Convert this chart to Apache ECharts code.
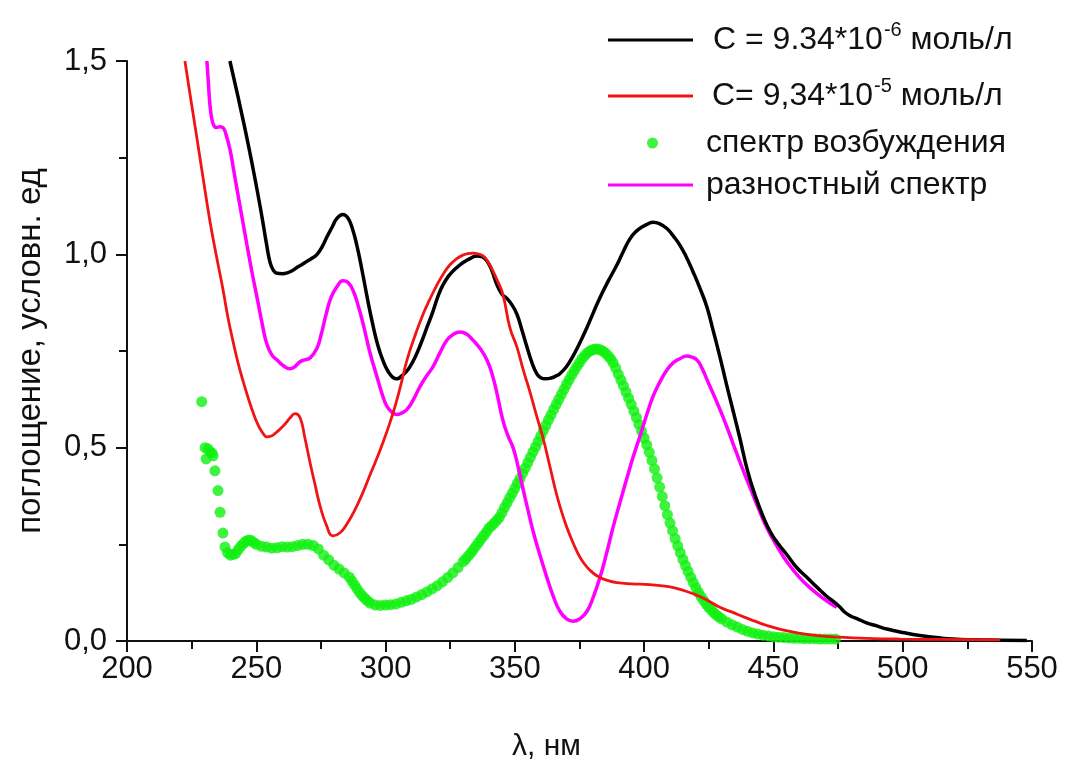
<!DOCTYPE html>
<html>
<head>
<meta charset="utf-8">
<script src="https://cdn.jsdelivr.net/npm/echarts@6/dist/echarts.min.js"></script>
<style>
  html, body { margin: 0; padding: 0; background: #fff; }
  #chart { width: 1065px; height: 767px; }
</style>
</head>
<body>
<div id="chart"></div>
<script>
// Absorption spectra: wavelength (nm) vs absorbance (arb. units)
const seriesNames = [
  'C = 9.34*10-6 моль/л',
  'C= 9,34*10-5 моль/л',
  'спектр возбуждения',
  'разностный спектр'
];
// legend text split into [base, superscript, tail]
const legendParts = [
  ['C = 9.34*10', '-6', ' моль/л'],
  ['C= 9,34*10', '-5', ' моль/л'],
  ['спектр возбуждения', '', ''],
  ['разностный спектр', '', '']
];

const xTicks = [200, 250, 300, 350, 400, 450, 500, 550];
const yTickLabels = ['0,0', '0,5', '1,0', '1,5'];

// C = 9.34e-6 mol/l
const spectrumLow = [
  [239.8,1.50],[242,1.435],[244,1.375],[246.4,1.300],[248.5,1.230],[250.5,1.160],[252.5,1.085],[254,1.025],
  [255.3,0.980],[256.5,0.960],[258,0.951],[260,0.950],[262,0.952],[264,0.958],[266,0.967],[268,0.975],
  [269.6,0.982],[271.5,0.990],[273.5,1.00],[275.5,1.02],[277.3,1.045],[279.3,1.07],[281.2,1.093],[283.5,1.103],
  [285.3,1.095],[287,1.07],[289,1.02],[291,0.955],[293,0.885],[295,0.82],[297,0.765],[299,0.725],
  [301,0.697],[302.8,0.682],[304.4,0.678],[306,0.684],[307.8,0.695],[309.4,0.709],[311.5,0.735],[313.7,0.77],
  [316,0.811],[318.2,0.85],[320.2,0.89],[322.2,0.921],[324.5,0.945],[326.6,0.960],[328.8,0.973],[331,0.983],
  [333.2,0.991],[335.3,0.996],[337.2,0.994],[339.2,0.983],[341.1,0.958],[343.1,0.921],[345,0.897],[346.9,0.886],
  [348.8,0.870],[350.8,0.845],[352.7,0.805],[354.7,0.760],[356.6,0.720],[358.5,0.691],[360,0.681],[361.8,0.678],
  [364,0.680],[365.8,0.685],[367.4,0.691],[370,0.71],[372.5,0.737],[375.2,0.772],[377.9,0.811],[380.4,0.85],
  [382.9,0.888],[386.2,0.932],[389.5,0.973],[392,1.008],[394.5,1.040],[397,1.060],[399.5,1.072],[401.5,1.079],
  [403.4,1.083],[406,1.079],[408.8,1.067],[411.3,1.047],[413.8,1.024],[416.3,0.993],[418.9,0.955],[421.6,0.912],
  [424.3,0.863],[426.8,0.80],[429.3,0.735],[431.8,0.665],[434.3,0.598],[437,0.525],[440,0.440],[443,0.375],
  [446,0.322],[449,0.280],[452,0.250],[455.2,0.223],[459,0.19],[463,0.164],[467,0.138],[470.7,0.115],
  [473.3,0.102],[475.7,0.088],[477.5,0.075],[480,0.064],[482.3,0.058],[486,0.047],[490,0.039],[493.9,0.031],
  [500,0.022],[506.6,0.014],[513,0.009],[519.4,0.005],[528,0.003],[537.6,0.002],[548,0.001]
];

// C = 9.34e-5 mol/l
const spectrumHigh = [
  [222.4,1.50],[224.7,1.40],[227.1,1.298],[229.6,1.19],[232.1,1.085],[234.6,0.995],[237.1,0.910],[239,0.838],
  [241,0.775],[243,0.718],[244.9,0.672],[246.8,0.630],[248.7,0.592],[250.6,0.560],[252.6,0.537],[254.1,0.528],
  [255.8,0.530],[257.5,0.538],[259.2,0.548],[261.2,0.562],[263.2,0.578],[265,0.588],[266.9,0.578],[268.8,0.525],
  [270.8,0.461],[272.7,0.405],[274.6,0.351],[277.1,0.300],[279.7,0.272],[282.4,0.280],[285.1,0.303],[288.2,0.340],
  [291.3,0.385],[294,0.430],[296.5,0.47],[298.8,0.51],[301.2,0.555],[303.8,0.61],[306,0.665],[308.3,0.727],
  [311.4,0.79],[314.5,0.845],[317.2,0.885],[319.9,0.921],[322.4,0.950],[324.9,0.973],[327.4,0.988],[329.9,0.998],
  [331.9,1.002],[333.8,1.003],[335.8,1.001],[337.7,0.996],[339.6,0.980],[341.5,0.957],[343.5,0.928],[345.4,0.896],
  [348.1,0.81],[350.8,0.76],[353.3,0.70],[355.8,0.645],[358.3,0.585],[360.9,0.525],[363.6,0.45],[366.3,0.375],
  [369,0.315],[371.5,0.27],[374,0.232],[376.3,0.205],[379.5,0.180],[382.9,0.164],[386.2,0.156],[389.5,0.151],
  [395,0.148],[402.2,0.146],[408.8,0.141],[412.5,0.136],[416.5,0.128],[420.5,0.118],[424.3,0.106],[429.3,0.087],
  [434.3,0.074],[438.2,0.063],[442.5,0.052],[447.5,0.040],[453.5,0.029],[460.2,0.020],[467,0.014],[475.7,0.010],
  [486,0.007],[498.9,0.005],[515,0.004],[537.6,0.003]
];

// excitation spectrum (measured points)
const excitation = [
  [228.9,0.619],[230.2,0.500],[230.6,0.471],[231.3,0.497],[232.1,0.489],[232.9,0.486],[233.3,0.479],[234.0,0.440],
  [235.2,0.389],[236.0,0.333],[237.1,0.279],[237.9,0.243],[238.9,0.228],[240,0.222],[241,0.224],[242,0.226],
  [243,0.236],[244,0.245],[245,0.252],[246,0.258],[247,0.261],[248,0.260],[249,0.255],[250,0.250],[252,0.245],
  [254,0.243],[256,0.240],[258,0.241],[260,0.244],[262,0.243],[264,0.244],[266,0.247],[268,0.250],
  [270,0.250],[272,0.247],[274,0.238],[276,0.222],[278,0.210],[280,0.196],[282,0.186],[284,0.176],
  [286,0.165],[287,0.155],[288,0.145],[289,0.135],[290,0.125],[291,0.117],[292,0.110],[293,0.104],
  [294,0.098],[296,0.093],[298,0.092],[300,0.093],[302,0.094],[304,0.096],[306,0.100],[308,0.104],
  [310,0.108],[312,0.114],[314,0.120],[316,0.127],[318,0.135],[320,0.143],[322,0.153],[324,0.164],
  [326,0.176],[328,0.190],[330,0.205],[331,0.212],[332,0.220],[333,0.228],[334,0.237],[335,0.246],
  [336,0.255],[337,0.264],[338,0.273],[339,0.282],[340,0.292],[341,0.298],[342,0.305],[343,0.312],
  [344,0.320],[345,0.332],[346,0.345],[347,0.357],[348,0.370],[349,0.382],[350,0.395],[351,0.408],
  [352,0.420],[353,0.434],[354,0.447],[355,0.461],[356,0.475],[357,0.489],[358,0.502],[359,0.516],
  [360,0.530],[361,0.544],[362,0.558],[363,0.572],[364,0.585],[365,0.599],[366,0.612],[367,0.625],
  [368,0.638],[369,0.651],[370,0.664],[371,0.676],[372,0.688],[373,0.699],[374,0.710],[375,0.720],
  [376,0.730],[377,0.738],[378,0.745],[379,0.750],[380,0.753],[381,0.755],[382,0.755],[383,0.753],
  [384,0.750],[385,0.745],[386,0.738],[387,0.730],[388,0.720],[389,0.706],[390,0.690],[391,0.675],
  [392,0.660],[393,0.644],[394,0.628],[395,0.612],[396,0.595],[397,0.578],[398,0.560],[399,0.543],
  [400,0.525],[401,0.507],[402,0.488],[403,0.467],[404,0.445],[405,0.422],[406,0.398],[407,0.374],
  [408,0.350],[409,0.327],[410,0.305],[411,0.285],[412,0.265],[413,0.246],[414,0.228],[415,0.211],
  [416,0.195],[417,0.180],[418,0.165],[419,0.151],[420,0.138],[421,0.126],[422,0.115],[423,0.105],
  [424,0.095],[425,0.087],[426,0.080],[427,0.073],[428,0.067],[429,0.062],[430,0.057],[432,0.049],
  [434,0.042],[436,0.036],[438,0.030],[440,0.025],[442,0.021],[444,0.018],[446,0.015],[448,0.013],
  [450,0.011],[452,0.010],[454,0.009],[456,0.008],[458,0.007],[460,0.007],[462,0.006],[464,0.006],
  [466,0.006],[468,0.005],[470,0.005],[472,0.005],[474,0.005]
];

// difference spectrum
const difference = [
  [230.9,1.50],[231.5,1.44],[232.1,1.385],[232.8,1.350],[233.6,1.333],[234.5,1.328],[236,1.330],[237.2,1.327],
  [238.2,1.312],[239.8,1.272],[241.2,1.22],[242.5,1.170],[244.5,1.095],[246.4,1.024],[248.3,0.955],[250.3,0.888],
  [252.6,0.810],[254.1,0.768],[256,0.740],[258,0.727],[260.5,0.712],[263,0.704],[265,0.710],[266.9,0.722],
  [268.8,0.727],[270.8,0.732],[273.5,0.758],[275,0.79],[277,0.845],[279,0.89],[281.2,0.916],[283.5,0.932],
  [285.5,0.927],[287.5,0.905],[289.5,0.865],[291.5,0.815],[294,0.745],[296.7,0.683],[298.6,0.640],[300.5,0.607],
  [302.4,0.592],[304.4,0.586],[306.3,0.590],[308.3,0.599],[310.8,0.625],[313.3,0.658],[315.8,0.685],[318.3,0.709],
  [321,0.745],[323.7,0.778],[326.2,0.793],[328.8,0.799],[331.3,0.794],[333.8,0.778],[336.5,0.757],[339.2,0.727],
  [341.2,0.690],[343.1,0.640],[345.4,0.570],[347.4,0.530],[349.3,0.500],[351.2,0.452],[353.1,0.395],[355.1,0.338],
  [357,0.285],[359.7,0.222],[362.4,0.164],[364.9,0.115],[367.4,0.077],[370,0.057],[372.5,0.051],[375.2,0.058],
  [377.9,0.077],[380.4,0.115],[382.9,0.164],[385.4,0.225],[387.9,0.292],[390.6,0.357],[393.3,0.420],[395.8,0.477],
  [398.4,0.530],[400.9,0.583],[403.4,0.632],[406.1,0.670],[408.8,0.701],[411.3,0.720],[413.8,0.730],[416.5,0.737],
  [418.5,0.734],[420.4,0.727],[422.4,0.705],[424.3,0.676],[426.8,0.638],[429.3,0.599],[431.8,0.557],[434.3,0.512],
  [437.5,0.455],[440.9,0.398],[444.2,0.343],[447.5,0.292],[451.4,0.245],[455.2,0.205],[459.6,0.168],[464.1,0.138],
  [469.3,0.110],[474.5,0.087]
];

const FONT = '"Liberation Sans", Arial, sans-serif';
const colors = { low: '#000000', high: '#f01414', exc: '#10f010', diff: '#ff00ff' };

const legendRich = {
  t: { fontFamily: FONT, fontSize: 32, color: '#111', lineHeight: 38 },
  s: { fontFamily: FONT, fontSize: 20, color: '#111', lineHeight: 38, padding: [0, 0, 20, 1] }
};
function legendText(name) {
  const p = legendParts[seriesNames.indexOf(name)];
  let s = '{t|' + p[0] + '}';
  if (p[1]) s += '{s|' + p[1] + '}';
  if (p[2]) s += '{t|' + p[2] + '}';
  return s;
}
function makeLegend(idx, icon, left, top, iconW, iconH, padLeft) {
  return {
    data: [{ name: seriesNames[idx], icon: icon }],
    left: left, top: top,
    itemWidth: iconW, itemHeight: iconH,
    padding: 0,
    selectedMode: false,
    formatter: legendText,
    textStyle: { fontFamily: FONT, fontSize: 32, color: '#111', padding: [0, 0, 0, padLeft], rich: legendRich }
  };
}

const chart = echarts.init(document.getElementById('chart'), null, { renderer: 'canvas' });
chart.setOption({
  animation: false,
  backgroundColor: '#ffffff',
  grid: { left: 127, right: 33, top: 61, bottom: 120, containLabel: false },
  legend: [
    makeLegend(0, 'rect', 608, 20, 85, 3, 15),
    makeLegend(1, 'rect', 608, 76, 85, 3, 14),
    makeLegend(2, 'circle', 647, 127, 11, 11, 43),
    makeLegend(3, 'rect', 608, 169, 85, 3, 8)
  ],
  xAxis: {
    type: 'value',
    min: xTicks[0], max: xTicks[xTicks.length - 1], interval: 50,
    name: 'λ, нм',
    nameLocation: 'middle',
    nameGap: 91,
    nameTextStyle: { fontFamily: FONT, fontSize: 30, color: '#111', padding: [0, 66, 0, 0] },
    axisLine: { lineStyle: { color: '#111', width: 2 } },
    axisTick: { inside: false, length: 11, lineStyle: { color: '#111', width: 2 } },
    minorTick: { show: true, splitNumber: 2, length: 8, lineStyle: { color: '#111', width: 2 } },
    splitLine: { show: false },
    axisLabel: { fontFamily: FONT, fontSize: 31, color: '#111', margin: 13 }
  },
  yAxis: {
    type: 'value',
    min: 0, max: 1.5, interval: 0.5,
    name: 'поглощение, условн. ед',
    nameLocation: 'middle',
    nameGap: 80,
    nameTextStyle: { fontFamily: FONT, fontSize: 33, color: '#111' },
    axisLine: { show: true, lineStyle: { color: '#111', width: 2 } },
    axisTick: { show: true, inside: false, length: 11, lineStyle: { color: '#111', width: 2 } },
    minorTick: { show: true, splitNumber: 2, length: 8, lineStyle: { color: '#111', width: 2 } },
    splitLine: { show: false },
    axisLabel: {
      fontFamily: FONT, fontSize: 31, color: '#111', margin: 20,
      formatter: (v) => yTickLabels[Math.round(v / 0.5)]
    }
  },
  series: [
    {
      name: seriesNames[2], type: 'scatter', data: excitation,
      symbol: 'circle', symbolSize: 11, z: 1,
      itemStyle: { color: colors.exc }
    },
    {
      name: seriesNames[3], type: 'line', data: difference,
      symbol: 'none', smooth: 0.5, z: 2,
      lineStyle: { color: colors.diff, width: 3.5 }, itemStyle: { color: colors.diff }
    },
    {
      name: seriesNames[0], type: 'line', data: spectrumLow,
      symbol: 'none', smooth: 0.5, z: 3,
      lineStyle: { color: colors.low, width: 3.5 }, itemStyle: { color: colors.low }
    },
    {
      name: seriesNames[1], type: 'line', data: spectrumHigh,
      symbol: 'none', smooth: 0.5, z: 4,
      lineStyle: { color: colors.high, width: 2.8 }, itemStyle: { color: colors.high }
    }
  ]
});
</script>
</body>
</html>
